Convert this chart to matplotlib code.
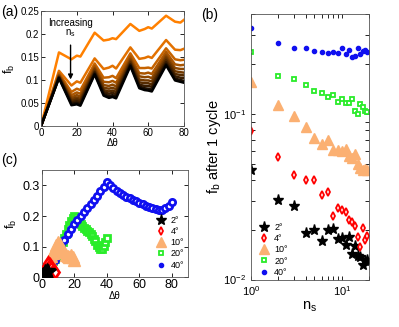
import matplotlib
matplotlib.use('Agg')
import matplotlib.pyplot as plt
import numpy as np

plt.rcParams['font.family'] = ['Liberation Sans', 'DejaVu Sans']
plt.rcParams['mathtext.fontset'] = 'custom'
plt.rcParams['mathtext.rm'] = 'Liberation Sans'
plt.rcParams['mathtext.it'] = 'Liberation Sans'
plt.rcParams['mathtext.default'] = 'regular'

# ---- (a) f_b vs delta theta, one curve per n_s ----
dtheta_a = [0, 10, 17, 20, 22, 30, 35, 38, 40, 42, 50, 55, 58, 60, 62, 70, 75, 78, 80]
fb_curves = [
    [0, 0.160, 0.145, 0.153, 0.151, 0.203, 0.186, 0.188, 0.191, 0.189, 0.222, 0.207, 0.211, 0.215, 0.212, 0.240, 0.227, 0.225, 0.231],
    [0, 0.120, 0.088, 0.097, 0.094, 0.147, 0.124, 0.127, 0.131, 0.125, 0.171, 0.146, 0.148, 0.151, 0.148, 0.187, 0.166, 0.165, 0.168],
    [0, 0.115, 0.074, 0.081, 0.078, 0.136, 0.105, 0.106, 0.109, 0.104, 0.158, 0.126, 0.126, 0.127, 0.125, 0.169, 0.145, 0.143, 0.144],
    [0, 0.112, 0.067, 0.073, 0.070, 0.130, 0.096, 0.095, 0.098, 0.094, 0.151, 0.115, 0.114, 0.116, 0.113, 0.161, 0.134, 0.132, 0.133],
    [0, 0.110, 0.062, 0.067, 0.064, 0.126, 0.089, 0.087, 0.090, 0.086, 0.146, 0.108, 0.106, 0.107, 0.104, 0.154, 0.126, 0.124, 0.124],
    [0, 0.109, 0.058, 0.062, 0.059, 0.123, 0.083, 0.081, 0.083, 0.080, 0.142, 0.101, 0.099, 0.099, 0.097, 0.149, 0.119, 0.117, 0.116],
    [0, 0.107, 0.054, 0.058, 0.055, 0.119, 0.078, 0.075, 0.077, 0.074, 0.139, 0.095, 0.093, 0.093, 0.090, 0.144, 0.113, 0.111, 0.110],
    [0, 0.106, 0.051, 0.054, 0.051, 0.117, 0.074, 0.070, 0.072, 0.069, 0.135, 0.090, 0.087, 0.087, 0.085, 0.139, 0.108, 0.105, 0.104],
    [0, 0.105, 0.048, 0.050, 0.047, 0.114, 0.070, 0.065, 0.067, 0.064, 0.133, 0.086, 0.082, 0.081, 0.079, 0.135, 0.103, 0.100, 0.098],
    [0, 0.104, 0.045, 0.047, 0.044, 0.112, 0.066, 0.061, 0.063, 0.060, 0.130, 0.082, 0.078, 0.077, 0.075, 0.132, 0.099, 0.096, 0.094],
]

# ---- (b) f_b after 1 cycle vs n_s ----
ns = list(range(1, 20))
fb_2 = [0.0462, 0.0301, 0.0280, 0.0191, 0.0198, 0.0172, 0.0200, 0.0202, 0.0176, 0.0178,
        0.0162, 0.0182, 0.0143, 0.0160, 0.0138, 0.0136, 0.0123, 0.0129, 0.0131]
fb_4 = [0.079, 0.055, 0.0431, 0.0398, 0.0398, 0.0326, 0.0336, 0.0241, 0.0271, 0.0262,
        0.0255, 0.0230, 0.0222, 0.0211, 0.0182, 0.0158, 0.0205, 0.0174, 0.0184]
fb_10 = [0.156, 0.113, 0.097, 0.083, 0.072, 0.066, 0.070, 0.0605, 0.061, 0.0597,
         0.0617, 0.056, 0.0544, 0.057, 0.050, 0.0473, 0.0462, 0.0467, 0.0458]
fb_20 = [0.236, 0.170, 0.162, 0.149, 0.137, 0.134, 0.127, 0.130, 0.119, 0.124,
         0.117, 0.117, 0.123, 0.104, 0.0995, 0.115, 0.111, 0.104, 0.103]
fb_40 = [0.330, 0.269, 0.249, 0.249, 0.240, 0.236, 0.234, 0.236, 0.234, 0.251,
         0.231, 0.245, 0.220, 0.223, 0.249, 0.230, 0.239, 0.243, 0.238]

# ---- (c) f_b vs delta theta for each amplitude ----
dth_2 = [0, 1, 2, 3, 4]
fbc_2 = [0.0, 0.009, 0.017, 0.022, 0.016]
dth_4 = [0, 1, 2, 3, 4, 5, 6, 7, 8]
fbc_4 = [0.0, 0.013, 0.026, 0.038, 0.048, 0.040, 0.030, 0.022, 0.018]
dth_10 = list(range(0, 21))
fbc_10 = [0.0, 0.010, 0.021, 0.032, 0.044, 0.056, 0.068, 0.080, 0.092, 0.104, 0.115,
          0.108, 0.098, 0.089, 0.081, 0.074, 0.069, 0.067, 0.072, 0.066, 0.058]
dth_20 = list(range(0, 41))
fbc_20 = [0.000, 0.007, 0.014, 0.021, 0.028, 0.036, 0.044, 0.052, 0.060, 0.069, 0.079,
          0.090, 0.102, 0.115, 0.128, 0.142, 0.156, 0.170, 0.183, 0.194, 0.201,
          0.196, 0.188, 0.180, 0.173, 0.167, 0.162, 0.157, 0.152, 0.147, 0.141,
          0.134, 0.126, 0.117, 0.107, 0.098, 0.091, 0.092, 0.101, 0.114, 0.128]
dth_40 = list(range(0, 81, 2))
fbc_40 = [0.000, 0.014, 0.029, 0.043, 0.057, 0.075, 0.098, 0.122, 0.141, 0.158, 0.174,
          0.188, 0.200, 0.212, 0.225, 0.238, 0.251, 0.266, 0.281, 0.296, 0.311,
          0.302, 0.291, 0.282, 0.274, 0.269, 0.263, 0.258, 0.253, 0.249, 0.244,
          0.239, 0.234, 0.229, 0.226, 0.223, 0.221, 0.221, 0.225, 0.233, 0.246]

labels = ['2°', '4°', '10°', '20°', '40°']
orange = '#fbb072'
green = '#2aec2a'
blue = '#1010f0'


def matlab_axes(ax):
    ax.tick_params(direction='in', top=True, right=True, length=3, width=0.6, which='both')
    for s in ax.spines.values():
        s.set_linewidth(0.6)
        s.set_color('#555555')


fig = plt.figure(figsize=(3.99, 3.27), dpi=100)

# ------------ (a) ------------
ax1 = fig.add_axes([0.103, 0.615, 0.358, 0.351])
n_curves = len(fb_curves)
for i, fb in enumerate(fb_curves):
    s = 1 - i / (n_curves - 1)
    ax1.plot(dtheta_a, fb, color=(1.0 * s, 0.5 * s, 0.0), lw=1.8)
ax1.set_xlim(0, 80)
ax1.set_ylim(0, 0.25)
ax1.set_xticks([0, 20, 40, 60, 80])
ax1.set_yticks([0, 0.05, 0.1, 0.15, 0.2, 0.25])
ax1.set_yticklabels(['0', '0.05', '0.1', '0.15', '0.2', '0.25'])
ax1.tick_params(labelsize=7, pad=1.5)
matlab_axes(ax1)
ax1.set_xlabel('Δθ', fontsize=7, labelpad=0)
ax1.set_ylabel('f$_b$', fontsize=9, labelpad=2)
ax1.annotate('', xy=(16.5, 0.095), xytext=(16.5, 0.182),
             arrowprops=dict(arrowstyle='-|>', color='k', lw=1.0, mutation_scale=7))
ax1.text(16.5, 0.225, 'Increasing', ha='center', va='center', fontsize=7)
ax1.text(16.5, 0.203, 'n$_s$', ha='center', va='center', fontsize=7)
fig.text(0.003, 0.962, '(a)', fontsize=10, va='center')

# ------------ (b) ------------
ax2 = fig.add_axes([0.629, 0.145, 0.296, 0.811])
h2, = ax2.plot(ns, fb_2, '*', color='k', ms=8, ls='none')
h4, = ax2.plot(ns, fb_4, 'd', mfc='w', mec='r', mew=1.3, ms=4, ls='none')
h10, = ax2.plot(ns, fb_10, '^', color=orange, ms=6.5, ls='none')
h20, = ax2.plot(ns, fb_20, 's', mfc='w', mec=green, mew=1.3, ms=3, ls='none')
h40, = ax2.plot(ns, fb_40, 'o', color=blue, ms=3, ls='none')
ax2.set_xscale('log')
ax2.set_yscale('log')
ax2.set_xlim(1, 20)
ax2.set_ylim(0.01, 0.4)
ax2.tick_params(labelsize=8)
matlab_axes(ax2)
ax2.set_xlabel('n$_s$', fontsize=10.5, labelpad=1)
ax2.set_ylabel('f$_b$ after 1 cycle', fontsize=10.5, labelpad=0)
handles = [h2, h4, h10, h20, h40]
ax2.legend(handles, labels, loc='lower left', bbox_to_anchor=(0.02, -0.01),
           frameon=False, fontsize=6.5, handlelength=1.2, handletextpad=0.5,
           labelspacing=0.25, borderaxespad=0.2)
fig.text(0.505, 0.955, '(b)', fontsize=10, va='center')

# ------------ (c) ------------
ax3 = fig.add_axes([0.1045, 0.152, 0.367, 0.328])
ax3.plot(dth_20, fbc_20, 's', mfc='w', mec=green, mew=2, ms=4, ls='none', zorder=2)
ax3.plot(dth_40, fbc_40, 'o', mfc='w', mec=blue, mew=2, ms=4.5, ls='none', zorder=3)
ax3.plot(dth_10, fbc_10, '^', color=orange, ms=8, ls='none', zorder=4)
ax3.plot(dth_4, fbc_4, 'd', mfc='w', mec='r', mew=2, ms=6, ls='none', zorder=5)
ax3.plot(dth_2, fbc_2, '*', color='k', ms=12, ls='none', zorder=6)
ax3.set_xlim(0, 90)
ax3.set_ylim(0, 0.35)
ax3.set_xticks([0, 20, 40, 60, 80])
ax3.set_yticks([0, 0.1, 0.2, 0.3])
ax3.set_yticklabels(['0', '0.1', '0.2', '0.3'])
ax3.tick_params(labelsize=9, pad=1.5)
matlab_axes(ax3)
ax3.set_xlabel('Δθ', fontsize=7, labelpad=0)
ax3.set_ylabel('f$_b$', fontsize=9, labelpad=2)
ax3.legend(handles, labels, loc='lower left', bbox_to_anchor=(0.74, 0.02),
           frameon=False, fontsize=6.5, handlelength=1.2, handletextpad=0.5,
           labelspacing=0.25, borderaxespad=0.2)
fig.text(0.003, 0.51, '(c)', fontsize=10, va='center')

fig.savefig('out.png', dpi=100)
